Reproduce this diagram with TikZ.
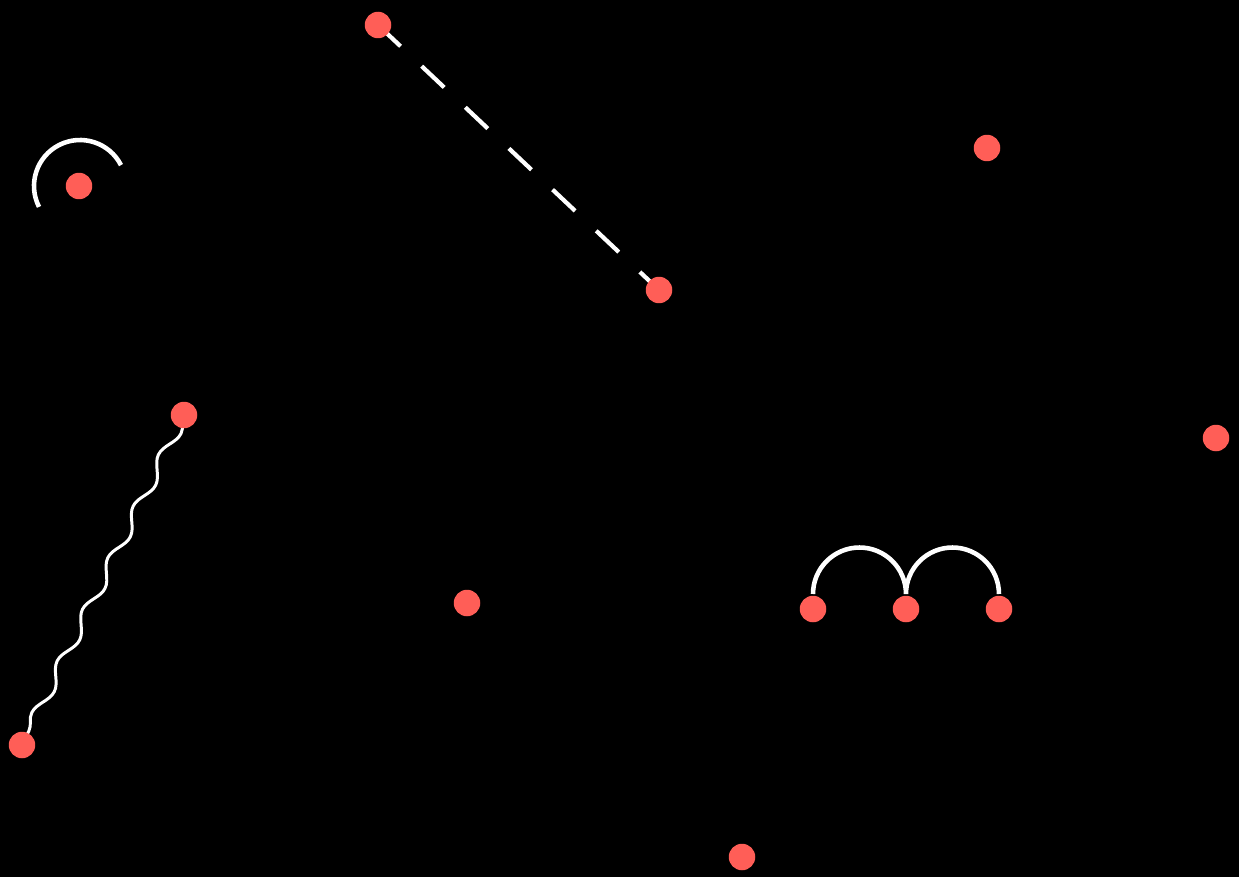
\documentclass[tikz,border=0pt]{standalone}
\usetikzlibrary{decorations.pathmorphing}
\definecolor{dotred}{RGB}{255,94,87}
\pgfdeclarelayer{bg}
\pgfdeclarelayer{wires}
\pgfsetlayers{bg,wires,main}

\begin{document}
\begin{tikzpicture}[x=0.02cm, y=0.02cm,
  dot/.style={circle, fill=dotred, inner sep=0pt, outer sep=0pt, minimum size=0.53cm},
  dashline/.style={white, line width=2.4pt, dash pattern=on 0.62cm off 0.58cm},
  arcline/.style={white, line width=2.6pt},
  wavy/.style={white, line width=1.7pt, decorate,
    decoration={snake, segment length=1.15cm, amplitude=0.11cm}}]
\useasboundingbox (0,0) rectangle (1239,877);
\begin{pgfonlayer}{bg}
\fill[black] (0,0) rectangle (1239,877);
\end{pgfonlayer}
% --- dots ---
\node[dot] (dA) at (378,852) {};
\node[dot] (dB) at (659,587) {};
\node[dot] (dC) at (79,691) {};
\node[dot] (dD) at (987,729) {};
\node[dot] (dE) at (184,462) {};
\node[dot] (dF) at (22,132) {};
\node[dot] (dG) at (1216,439) {};
\node[dot] (dH) at (467,274) {};
\node[dot] (dI) at (813,268) {};
\node[dot] (dJ) at (906,268) {};
\node[dot] (dK) at (999,268) {};
\node[dot] (dL) at (742,20) {};
% --- connectors ---
\begin{pgfonlayer}{wires}
\draw[dashline] (dA.center) -- (dB.center);
\draw[arcline] ([xshift=0.02cm]dC.center) ++(27:0.92cm)
  arc[start angle=27, end angle=207, radius=0.92cm];
\draw[wavy] (dE.center) -- (dF.center);
\draw[arcline] ([yshift=0.3cm]dI.center)
  arc[start angle=180, end angle=0, radius=0.93cm]
  arc[start angle=180, end angle=0, radius=0.93cm];
\end{pgfonlayer}
\end{tikzpicture}
\end{document}
